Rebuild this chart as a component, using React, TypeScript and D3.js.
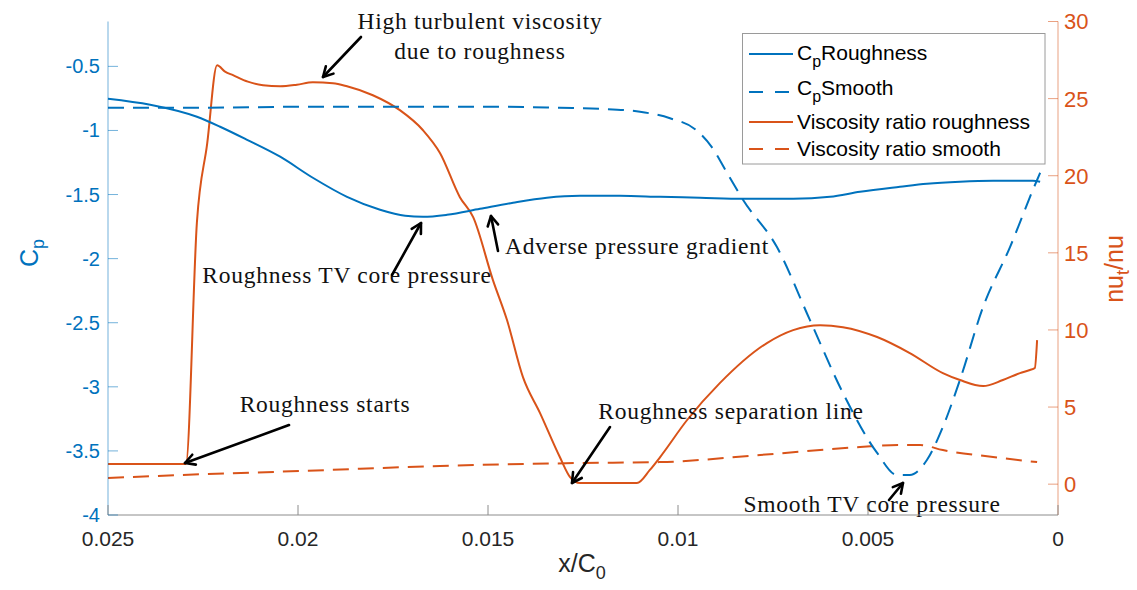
import React from "react";
import * as d3 from "d3";

// ---------- data ----------
const xTicks = [0.025, 0.02, 0.015, 0.01, 0.005, 0];
const xTickLabels = ["0.025", "0.02", "0.015", "0.01", "0.005", "0"];
const cpTicks = [-4, -3.5, -3, -2.5, -2, -1.5, -1, -0.5];
const cpTickLabels = ["-4", "-3.5", "-3", "-2.5", "-2", "-1.5", "-1", "-0.5"];
const nuTicks = [0, 5, 10, 15, 20, 25, 30];
const nuTickLabels = ["0", "5", "10", "15", "20", "25", "30"];

const cpRoughX = [0.025, 0.02389, 0.02266, 0.02205, 0.02134, 0.02047, 0.01961, 0.01871, 0.01784, 0.01718, 0.01671, 0.01608, 0.01521, 0.01434, 0.01345, 0.01258, 0.01153, 0.01047, 0.00942, 0.00829, 0.00697, 0.006, 0.00521, 0.00416, 0.00345, 0.00258, 0.00171, 0.00066, 0.00047];
const cpRoughY = [-0.752, -0.799, -0.893, -0.971, -1.073, -1.205, -1.369, -1.518, -1.619, -1.666, -1.674, -1.658, -1.611, -1.564, -1.525, -1.51, -1.51, -1.518, -1.525, -1.533, -1.533, -1.518, -1.479, -1.44, -1.416, -1.4, -1.393, -1.393, -1.4];

const cpSmoothX = [0.025, 0.02258, 0.01995, 0.01732, 0.01468, 0.01311, 0.01205, 0.011, 0.01021, 0.00955, 0.00911, 0.00871, 0.00829, 0.0074, 0.00653, 0.00566, 0.00476, 0.00424, 0.0039, 0.00345, 0.00303, 0.00258, 0.00197, 0.00126, 0.00066, 0.00047];
const cpSmoothY = [-0.823, -0.823, -0.815, -0.815, -0.815, -0.823, -0.831, -0.854, -0.905, -0.99, -1.13, -1.33, -1.541, -1.908, -2.478, -3.048, -3.516, -3.688, -3.688, -3.571, -3.313, -2.946, -2.376, -1.908, -1.463, -1.33];

const nuRoughX = [0.025, 0.02295, 0.02266, 0.02239, 0.02213, 0.02192, 0.02171, 0.02132, 0.02092, 0.02047, 0.02003, 0.01961, 0.01908, 0.01871, 0.01803, 0.01732, 0.01671, 0.01626, 0.01574, 0.01539, 0.01487, 0.0145, 0.01408, 0.01363, 0.01311, 0.01284, 0.01258, 0.01108, 0.01074, 0.01047, 0.00976, 0.0089, 0.00766, 0.00697, 0.00626, 0.00566, 0.00476, 0.0039, 0.00303, 0.00258, 0.00197, 0.00145, 0.001, 0.00074, 0.00061, 0.00055];
const nuRoughY = [1.3, 1.3, 16.99, 22.08, 27.16, 26.75, 26.52, 26.1, 25.87, 25.8, 25.9, 26.06, 26.0, 25.8, 25.22, 24.25, 22.95, 21.46, 18.61, 17.31, 13.23, 10.64, 6.94, 4.61, 1.76, 0.46, 0.07, 0.07, 0.92, 1.76, 4.16, 6.55, 9.15, 9.99, 10.31, 10.18, 9.54, 8.5, 7.2, 6.75, 6.36, 6.75, 7.2, 7.4, 7.53, 9.34];

const nuSmoothX = [0.025, 0.02311, 0.01995, 0.01626, 0.01258, 0.01047, 0.00784, 0.00521, 0.00416, 0.00363, 0.00303, 0.00171, 0.00055];
const nuSmoothY = [0.4, 0.59, 0.85, 1.18, 1.37, 1.43, 1.89, 2.41, 2.54, 2.54, 2.21, 1.76, 1.43];

const legendLabels = ["Roughness", "Smooth", "Viscosity ratio roughness", "Viscosity ratio smooth"];

// ---------- layout ----------
const W = 1137, H = 590;
const L = 108, R = 1058, T = 21.5, B = 515;
const BLUE = "#0072BD";
const ORANGE = "#D95319";
const DASH = "16,9";
const SERIF = "'Liberation Serif', 'Times New Roman', serif";
const SANS = "'Liberation Sans', Arial, Helvetica, sans-serif";

const annotations = [
  { lines: ["High turbulent viscosity", "due to roughness"], x: 480, y: 29, from: [361, 37], to: [323, 77] },
  { lines: ["Roughness TV core pressure"], x: 347, y: 283, from: [392, 275], to: [421, 223] },
  { lines: ["Adverse pressure gradient"], x: 637, y: 254, from: [498, 251], to: [491, 216] },
  { lines: ["Roughness starts"], x: 325, y: 412, from: [289, 425], to: [185, 463] },
  { lines: ["Roughness separation line"], x: 731, y: 419, from: [610, 427], to: [572, 483] },
  { lines: ["Smooth TV core pressure"], x: 872, y: 512, from: [889, 500], to: [903, 483] },
];

function Arrow({ from, to }: { from: number[]; to: number[] }) {
  const [x1, y1] = from;
  const [x2, y2] = to;
  const ang = Math.atan2(y2 - y1, x2 - x1);
  const len = 11;
  const spread = 0.5;
  const a1 = [x2 - len * Math.cos(ang - spread), y2 - len * Math.sin(ang - spread)];
  const a2 = [x2 - len * Math.cos(ang + spread), y2 - len * Math.sin(ang + spread)];
  return (
    <g stroke="#000" strokeWidth={2.6} fill="none" strokeLinecap="round" strokeLinejoin="round">
      <line x1={x1} y1={y1} x2={x2} y2={y2} />
      <polyline points={`${a1[0]},${a1[1]} ${x2},${y2} ${a2[0]},${a2[1]}`} />
    </g>
  );
}

export default function App() {
  const x = d3.scaleLinear().domain([0.025, 0]).range([L, R]);
  const yL = d3.scaleLinear().domain([-4, -0.15]).range([B, T]);
  const yR = d3.scaleLinear().domain([-2, 30]).range([B, T]);

  const mk = (xs: number[], ys: number[], sy: d3.ScaleLinear<number, number>, curve: d3.CurveFactory) =>
    d3
      .line<number>()
      .x((_, i) => x(xs[i]))
      .y((d) => sy(d))
      .curve(curve)(ys) || "";

  const pCpRough = mk(cpRoughX, cpRoughY, yL, d3.curveMonotoneX);
  const pCpSmooth = mk(cpSmoothX, cpSmoothY, yL, d3.curveMonotoneX);
  const pNuRough = mk(nuRoughX, nuRoughY, yR, d3.curveMonotoneX);
  const pNuSmooth = mk(nuSmoothX, nuSmoothY, yR, d3.curveMonotoneX);

  const legendRows = [
    { color: BLUE, dash: undefined, label: legendLabels[0], sub: true, ly: 54, ty: 60 },
    { color: BLUE, dash: "14,12", label: legendLabels[1], sub: true, ly: 92, ty: 95 },
    { color: ORANGE, dash: undefined, label: legendLabels[2], sub: false, ly: 122, ty: 129 },
    { color: ORANGE, dash: "14,12", label: legendLabels[3], sub: false, ly: 149, ty: 156 },
  ];

  return (
    <svg width={W} height={H} style={{ position: "absolute", left: 0, top: 0, background: "#fff" }}>
      <rect x={0} y={0} width={W} height={H} fill="#fff" />

      {/* data lines */}
      <path d={pNuSmooth} fill="none" stroke={ORANGE} strokeWidth={2} strokeDasharray={DASH} />
      <path d={pNuRough} fill="none" stroke={ORANGE} strokeWidth={2} strokeLinejoin="round" />
      <path d={pCpSmooth} fill="none" stroke={BLUE} strokeWidth={2} strokeDasharray={DASH} />
      <path d={pCpRough} fill="none" stroke={BLUE} strokeWidth={2} />

      {/* annotations */}
      {annotations.map((a, i) => (
        <g key={i}>
          {a.lines.map((ln, j) => (
            <text
              key={j}
              x={a.x}
              y={a.y + j * 30}
              textAnchor="middle"
              fontFamily={SERIF}
              fontSize={23.5}
              letterSpacing={0.75}
              fill="#111"
            >
              {ln}
            </text>
          ))}
          <Arrow from={a.from} to={a.to} />
        </g>
      ))}

      {/* axes */}
      <line x1={L} y1={B} x2={R} y2={B} stroke="#8c8c8c" strokeWidth={1} />
      <line x1={L} y1={T} x2={L} y2={B} stroke={BLUE} strokeOpacity={0.55} strokeWidth={1} />
      <line x1={R} y1={T} x2={R} y2={B} stroke={ORANGE} strokeOpacity={0.55} strokeWidth={1} />

      {xTicks.map((t, i) => (
        <g key={"x" + i}>
          <line x1={x(t)} x2={x(t)} y1={B} y2={B - 10} stroke="#8c8c8c" strokeWidth={1} />
          <text x={x(t)} y={546} textAnchor="middle" fontFamily={SANS} fontSize={21} fill="#262626">
            {xTickLabels[i]}
          </text>
        </g>
      ))}
      {cpTicks.map((t, i) => (
        <g key={"l" + i}>
          <line x1={L} x2={L + 10} y1={yL(t)} y2={yL(t)} stroke={BLUE} strokeOpacity={0.55} strokeWidth={1} />
          <text x={100} y={yL(t)} dy="0.35em" textAnchor="end" fontFamily={SANS} fontSize={20} fill={BLUE}>
            {cpTickLabels[i]}
          </text>
        </g>
      ))}
      {nuTicks.map((t, i) => (
        <g key={"r" + i}>
          <line x1={R} x2={R - 10} y1={yR(t)} y2={yR(t)} stroke={ORANGE} strokeOpacity={0.55} strokeWidth={1} />
          <text x={1064} y={yR(t)} dy="0.36em" textAnchor="start" fontFamily={SANS} fontSize={22} fill={ORANGE}>
            {nuTickLabels[i]}
          </text>
        </g>
      ))}

      {/* axis labels */}
      <text transform="translate(38,253) rotate(-90)" textAnchor="middle" fontFamily={SANS} fontSize={25} fill={BLUE}>
        C<tspan dy={6} fontSize={18}>p</tspan>
      </text>
      <text transform="translate(1123,269) rotate(-90)" textAnchor="middle" fontFamily={SANS} fontSize={25} fill={ORANGE}>
        nu<tspan dy={6} fontSize={18}>t</tspan>
        <tspan dy={-6}>/nu</tspan>
      </text>
      <text x={582} y={572} textAnchor="middle" fontFamily={SANS} fontSize={25} fill="#262626">
        x/C<tspan dy={7} fontSize={18}>0</tspan>
      </text>

      {/* legend */}
      <rect x={742.5} y={33.5} width={302.5} height={130.5} fill="#fff" stroke="#9a9a9a" strokeWidth={1} />
      {legendRows.map((r, i) => (
        <g key={"lg" + i}>
          <line x1={749} x2={793} y1={r.ly} y2={r.ly} stroke={r.color} strokeWidth={2} strokeDasharray={r.dash} />
          <text x={797} y={r.ty} fontFamily={SANS} fontSize={21} fill="#000">
            {r.sub ? (
              <>
                C<tspan dy={7} fontSize={16}>p</tspan>
                <tspan dy={-7}>{r.label}</tspan>
              </>
            ) : (
              r.label
            )}
          </text>
        </g>
      ))}
    </svg>
  );
}
